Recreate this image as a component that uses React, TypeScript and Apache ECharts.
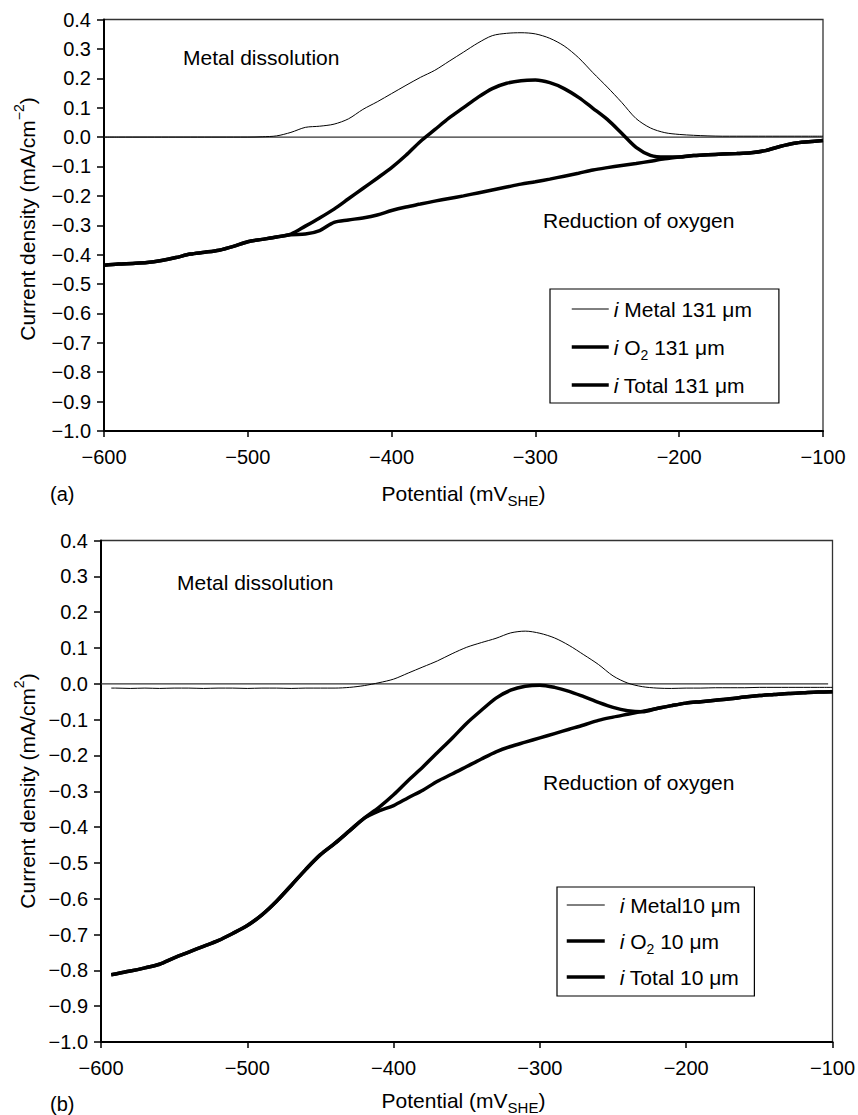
import React, { useEffect, useRef } from 'react';
import * as echarts from 'echarts';

// ---------- Panel (a): 131 µm ----------
const potentialA = [
  -600, -590, -580, -570, -560, -550, -540, -530, -520, -510,
  -500, -490, -480, -470, -460, -450, -440, -430, -420, -410,
  -400, -390, -380, -370, -360, -350, -340, -330, -320, -310,
  -300, -290, -280, -270, -260, -250, -240, -230, -220, -210,
  -200, -190, -180, -170, -160, -150, -140, -130, -120, -110, -100,
];
const metalA = [
  0, 0, 0, 0, 0, 0, 0, 0, 0, 0,
  0, 0.001, 0.004, 0.016, 0.033, 0.037, 0.044, 0.062, 0.094, 0.12,
  0.148, 0.176, 0.203, 0.227, 0.258, 0.289, 0.32, 0.345, 0.353, 0.355,
  0.351, 0.336, 0.31, 0.27, 0.219, 0.17, 0.118, 0.063, 0.031, 0.015,
  0.009, 0.006, 0.004, 0.003, 0.003, 0.003, 0.003, 0.003, 0.003, 0.003, 0.003,
];
const o2A = [
  -0.436, -0.432, -0.43, -0.427, -0.42, -0.41, -0.398, -0.392, -0.385, -0.372,
  -0.356, -0.348, -0.34, -0.332, -0.33, -0.318, -0.29, -0.282, -0.275, -0.265,
  -0.25, -0.238, -0.228, -0.218, -0.209, -0.2, -0.19, -0.18, -0.17, -0.16,
  -0.152, -0.143, -0.133, -0.123, -0.112, -0.104, -0.097, -0.09, -0.082, -0.074,
  -0.068, -0.063, -0.06, -0.058, -0.056, -0.053, -0.046, -0.032, -0.021, -0.016, -0.012,
];
const totalA = [
  -0.436, -0.432, -0.43, -0.427, -0.42, -0.41, -0.398, -0.392, -0.385, -0.372,
  -0.356, -0.348, -0.34, -0.33, -0.303, -0.275, -0.245, -0.21, -0.175, -0.14,
  -0.104, -0.062, -0.015, 0.025, 0.065, 0.1, 0.135, 0.165, 0.183, 0.192,
  0.194, 0.185, 0.165, 0.135, 0.098, 0.06, 0.013, -0.035, -0.062, -0.068,
  -0.068, -0.063, -0.06, -0.058, -0.056, -0.053, -0.046, -0.032, -0.021, -0.016, -0.012,
];
const zeroLineA = [-600, -100];
const namesA = ['i Metal 131 \u03bcm', 'i O2 131 \u03bcm', 'i Total 131 \u03bcm'];

// ---------- Panel (b): 10 µm ----------
const potentialB = [
  -593, -590, -580, -570, -560, -550, -540, -530, -520, -510,
  -500, -490, -480, -470, -460, -450, -440, -430, -420, -410,
  -400, -390, -380, -370, -360, -350, -340, -330, -320, -310,
  -300, -290, -280, -270, -260, -250, -240, -230, -220, -210,
  -200, -190, -180, -170, -160, -150, -140, -130, -120, -110, -100,
];
const metalB = [
  -0.012, -0.012, -0.013, -0.012, -0.013, -0.012, -0.012, -0.013, -0.012, -0.012,
  -0.013, -0.012, -0.012, -0.013, -0.012, -0.012, -0.012, -0.01, -0.005, 0.003,
  0.013, 0.03, 0.047, 0.064, 0.084, 0.102, 0.115, 0.127, 0.142, 0.147,
  0.141, 0.128, 0.107, 0.081, 0.054, 0.022, 0.002, -0.008, -0.012, -0.013,
  -0.012, -0.012, -0.011, -0.011, -0.011, -0.01, -0.01, -0.01, -0.01, -0.01, -0.01,
];
const o2B = [
  -0.812, -0.81, -0.802, -0.793, -0.783, -0.765, -0.749, -0.733, -0.717, -0.697,
  -0.675, -0.645, -0.607, -0.563, -0.518, -0.477, -0.445, -0.41, -0.375, -0.355,
  -0.34, -0.318, -0.297, -0.272, -0.252, -0.231, -0.21, -0.19, -0.175, -0.163,
  -0.151, -0.139, -0.127, -0.115, -0.102, -0.093, -0.085, -0.077, -0.069, -0.061,
  -0.054, -0.05, -0.046, -0.042, -0.037, -0.033, -0.03, -0.027, -0.025, -0.023, -0.022,
];
const totalB = [
  -0.812, -0.81, -0.802, -0.793, -0.783, -0.765, -0.749, -0.733, -0.717, -0.697,
  -0.675, -0.645, -0.607, -0.563, -0.518, -0.477, -0.445, -0.41, -0.375, -0.345,
  -0.31, -0.27, -0.232, -0.192, -0.152, -0.11, -0.074, -0.04, -0.018, -0.007,
  -0.004, -0.01, -0.021, -0.036, -0.052, -0.066, -0.075, -0.078, -0.069, -0.061,
  -0.054, -0.05, -0.046, -0.042, -0.037, -0.033, -0.03, -0.027, -0.025, -0.023, -0.022,
];
const zeroLineB = [-600, -103];
const namesB = ['i Metal10 \u03bcm', 'i O2 10 \u03bcm', 'i Total 10 \u03bcm'];

// ---------- Axes ----------
const xRange = [-600, -100];
const xInterval = 100;
const yRange = [-1.0, 0.4];
const yInterval = 0.1;

const THIN = 1;
const THICK = 3.5;
const FONT = '"Liberation Sans", Arial, Helvetica, sans-serif';

const fmt = (v: number, d: number) => {
  if (Math.abs(v) < 1e-9) return (0).toFixed(d);
  const s = Math.abs(v).toFixed(d);
  return v < 0 ? '\u2212' + s : s;
};

const pairs = (xs: number[], ys: number[]) => xs.map((x, i) => [x, ys[i]]);

const legendRich = {
  it: { fontStyle: 'italic', fontSize: 21, fontFamily: FONT, color: '#000', lineHeight: 30 },
  itb: { fontStyle: 'italic', fontSize: 21, fontFamily: FONT, color: '#000', lineHeight: 30, padding: [0, 0, 0, 10] },
  sub: { fontSize: 14, fontFamily: FONT, color: '#000', lineHeight: 14, verticalAlign: 'bottom' },
};

const legendFmt = (tag: string) => (name: string) =>
  name.replace(/^i /, '{' + tag + '|i} ').replace('O2', 'O{sub|2}');

const legendData = (names: string[]) =>
  names.map((name, i) => ({
    name,
    lineStyle: { width: i === 0 ? THIN : THICK, color: '#000', opacity: 1 },
    itemStyle: { color: 'rgba(0,0,0,0)', borderColor: 'rgba(0,0,0,0)', borderWidth: 0, opacity: 0 },
  }));

function makeX(gridIndex: number) {
  return {
    gridIndex,
    type: 'value',
    min: xRange[0],
    max: xRange[1],
    interval: xInterval,
    axisLine: { show: true, onZero: false, lineStyle: { color: '#000', width: 2 } },
    axisTick: { show: true, inside: false, length: 6, lineStyle: { color: '#000', width: 1.5 } },
    axisLabel: {
      show: true, margin: 16, color: '#000', fontSize: 20, fontFamily: FONT,
      showMinLabel: true, showMaxLabel: true,
      formatter: (v: number) => fmt(v, 0),
    },
    splitLine: { show: false },
  };
}

function makeY(gridIndex: number) {
  return {
    gridIndex,
    type: 'value',
    min: yRange[0],
    max: yRange[1],
    interval: yInterval,
    axisLine: { show: true, onZero: false, lineStyle: { color: '#000', width: 2 } },
    axisTick: { show: true, inside: false, length: 7, lineStyle: { color: '#000', width: 1.5 } },
    axisLabel: {
      show: true, margin: 13, color: '#000', fontSize: 20, fontFamily: FONT,
      showMinLabel: true, showMaxLabel: true,
      formatter: (v: number) => fmt(v, 1),
    },
    splitLine: { show: false },
  };
}

function line(name: string, idx: number, xs: number[], ys: number[], width: number, color = '#000') {
  return {
    name,
    type: 'line',
    xAxisIndex: idx,
    yAxisIndex: idx,
    data: pairs(xs, ys),
    symbol: 'none',
    showSymbol: false,
    smooth: 0.3,
    color,
    itemStyle: { color },
    lineStyle: { color, width },
    emphasis: { disabled: true },
    silent: true,
  };
}

function txt(x: number, y: number, text: string, align = 'left', size = 21, extra: any = {}) {
  return {
    type: 'text',
    x,
    y,
    ...extra,
    style: {
      text,
      fontSize: size,
      fontFamily: FONT,
      fill: '#000',
      align,
      verticalAlign: 'middle',
      textAlign: align,
      textVerticalAlign: 'middle',
      lineHeight: 30,
      rich: {
        sup: { fontSize: 14, fontFamily: FONT, fill: '#000', lineHeight: 14, verticalAlign: 'top' },
        sub: { fontSize: 15, fontFamily: FONT, fill: '#000', lineHeight: 15, verticalAlign: 'bottom' },
      },
    },
  };
}

const legendCommon = {
  orient: 'vertical',
  itemHeight: 14,
  borderColor: '#000',
  borderWidth: 1.2,
  borderRadius: 0,
  backgroundColor: '#fff',
  selectedMode: false,
  itemStyle: { color: 'rgba(0,0,0,0)', borderColor: 'rgba(0,0,0,0)', borderWidth: 0, opacity: 0 },
  textStyle: { color: '#000', fontSize: 21, fontFamily: FONT, lineHeight: 30, rich: legendRich },
};

export default function App() {
  const ref = useRef<HTMLDivElement>(null);
  useEffect(() => {
    if (!ref.current) return;
    const chart = echarts.init(ref.current, null, { renderer: 'svg' });
    const option: any = {
      animation: false,
      backgroundColor: '#fff',
      grid: [
        { left: 104, top: 19.5, width: 719, height: 411.5, show: true, borderColor: '#333', borderWidth: 1.3, containLabel: false, outerBoundsMode: 'none' },
        { left: 101, top: 540.5, width: 731.5, height: 501.5, show: true, borderColor: '#333', borderWidth: 1.3, containLabel: false, outerBoundsMode: 'none' },
      ],
      xAxis: [makeX(0), makeX(1)],
      yAxis: [makeY(0), makeY(1)],
      legend: [
        {
          ...legendCommon,
          data: legendData(namesA), left: 550, top: 289,
          itemWidth: 37, itemGap: 8,
          padding: [5, 27, 3, 20],
          formatter: legendFmt('it'),
        },
        {
          ...legendCommon,
          data: legendData(namesB), left: 557, top: 887,
          itemWidth: 38, itemGap: 6,
          padding: [3, 14, 4, 8],
          formatter: legendFmt('itb'),
        },
      ],
      series: [
        line('zeroA', 0, zeroLineA, [0, 0], 1.2, '#333'),
        line(namesA[0], 0, potentialA, metalA, THIN),
        line(namesA[1], 0, potentialA, o2A, THICK),
        line(namesA[2], 0, potentialA, totalA, THICK),
        line('zeroB', 1, zeroLineB, [0, 0], 1.2, '#333'),
        line(namesB[0], 1, potentialB, metalB, THIN),
        line(namesB[1], 1, potentialB, o2B, THICK),
        line(namesB[2], 1, potentialB, totalB, THICK),
      ],
      graphic: [
        txt(183, 57, 'Metal dissolution'),
        txt(543, 220, 'Reduction of oxygen'),
        txt(177, 582, 'Metal dissolution'),
        txt(543, 782, 'Reduction of oxygen'),
        txt(50, 494, '(a)', 'left', 20),
        txt(50, 1104, '(b)', 'left', 20),
        txt(463.5, 493, 'Potential (mV{sub|SHE})', 'center', 21),
        txt(463.5, 1100, 'Potential (mV{sub|SHE})', 'center', 21),
        txt(27, 219, 'Current density (mA/cm{sup|\u22122})', 'center', 21, { rotation: Math.PI / 2 }),
        txt(27, 791, 'Current density (mA/cm{sup|2})', 'center', 21, { rotation: Math.PI / 2 }),
      ],
    };
    chart.setOption(option);
    return () => chart.dispose();
  }, []);
  return (
    <div
      ref={ref}
      style={{ position: 'absolute', left: 0, top: 0, width: 858, height: 1115, background: '#fff' }}
    />
  );
}
